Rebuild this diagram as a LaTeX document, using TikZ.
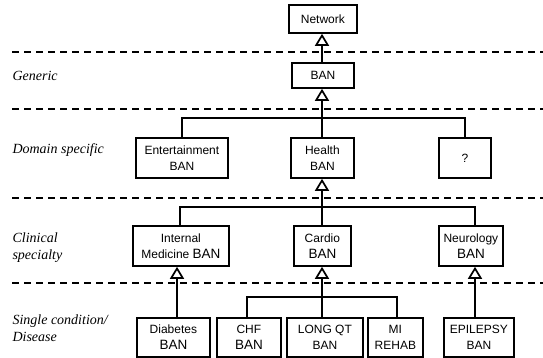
\documentclass[tikz,border=0pt]{standalone}
\usepackage{fontspec}
\setmainfont{Liberation Serif}
\newfontfamily\boxfont{Liberation Sans}
\usetikzlibrary{arrows.meta}

\tikzset{
  ban/.style={draw, line width=1.8pt, align=center, font=\boxfont\fontsize{12}{16}\selectfont,
              inner sep=0pt, anchor=north west},
  level/.style={font=\itshape\fontsize{14}{17}\selectfont, align=left, anchor=west},
  sep/.style={line width=1.3pt, dash pattern=on 7pt off 5pt},
  conn/.style={line width=1.7pt},
  isa/.style={line width=1.7pt, -{Triangle[open, length=12pt, width=14pt, line width=1.7pt]}},
}
\newcommand{\bigban}[1]{{\fontsize{13.5}{16}\selectfont #1}}

\begin{document}
\begin{tikzpicture}[x=1pt, y=-1pt]
\useasboundingbox (0,0) rectangle (543,357);

% layer separators
\draw[sep] (12,52) -- (543,52);
\draw[sep] (12,109) -- (543,109);
\draw[sep] (12,198) -- (543,198);
\draw[sep] (12,283) -- (543,283);

% layer names
\node[level] (lgen) at (9,76) {Generic};
\node[level] (ldom) at (9,150) {Domain specific};
\node[level] (lcli) at (9,248) {Clinical\\specialty};
\node[level] (lsin) at (9,328) {Single condition/\\Disease};

% boxes: top-left corner, width, height
\node[ban, minimum width=68pt, minimum height=28pt] (net) at (288,4) {Network};
\node[ban, minimum width=62pt, minimum height=25pt] (ban) at (291,62) {BAN};

\node[ban, minimum width=92pt, minimum height=40pt] (ent) at (135,137) {Entertainment\\BAN};
\node[ban, minimum width=63pt, minimum height=40pt] (hea) at (290,137) {Health\\BAN};
\node[ban, minimum width=52pt, minimum height=40pt] (unk) at (438,137) {?};

\node[ban, minimum width=96pt, minimum height=40pt] (int) at (132,225) {Internal\\Medicine \bigban{BAN}};
\node[ban, minimum width=57pt, minimum height=40pt] (car) at (293,225) {Cardio\\\bigban{BAN}};
\node[ban, minimum width=64pt, minimum height=40pt] (neu) at (438,225) {Neurology\\\bigban{BAN}};

\node[ban, minimum width=73pt, minimum height=39pt] (dia) at (136,317) {Diabetes\\\bigban{BAN}};
\node[ban, minimum width=64pt, minimum height=39pt] (chf) at (216,317) {CHF\\\bigban{BAN}};
\node[ban, minimum width=76pt, minimum height=39pt] (lqt) at (286,317) {LONG QT\\BAN};
\node[ban, minimum width=55pt, minimum height=39pt] (mir) at (367,317) {MI\\REHAB};
\node[ban, minimum width=70pt, minimum height=39pt] (epi) at (443,317) {EPILEPSY\\BAN};

% junctions of the branching connectors
\coordinate (j1) at (322,118);
\coordinate (j2) at (322,207);
\coordinate (j3) at (322,297);

% generalisation arrows
\draw[isa] (ban.north -| 322,0) -- (net.south -| 322,0);

\draw[isa] (j1) -- (ban.south -| j1);
\draw[conn] (ent.north) |- (j1) -| (unk.north);
\draw[conn] (hea.north -| j1) -- (j1);

\draw[isa] (j2) -- (hea.south -| j2);
\draw[conn] (int.north -| 180,0) |- (j2) -| (neu.north -| 475,0);
\draw[conn] (car.north -| j2) -- (j2);

\draw[isa] (dia.north -| 177,0) -- (int.south -| 177,0);
\draw[isa] (j3) -- (car.south -| j3);
\draw[conn] (chf.north -| 247,0) |- (j3) -| (mir.north -| 397,0);
\draw[conn] (lqt.north -| j3) -- (j3);
\draw[isa] (epi.north -| 475,0) -- (neu.south -| 475,0);
\end{tikzpicture}
\end{document}
